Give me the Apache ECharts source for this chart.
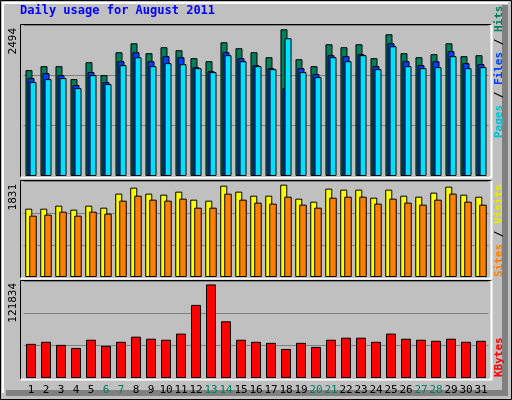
<!DOCTYPE html>
<html><head><meta charset="utf-8">
<script src="https://cdn.jsdelivr.net/npm/echarts@6/dist/echarts.min.js"></script>
<style>html,body{margin:0;padding:0;background:#c0c0c0}#c{width:512px;height:400px}</style>
</head><body><div id="c"></div>
<script>
const days = ['1','2','3','4','5','6','7','8','9','10','11','12','13','14','15','16','17','18','19','20','21','22','23','24','25','26','27','28','29','30','31'];
const weekendDays = ['6','7','13','14','20','21','27','28'];
const hits = [1749,1814,1814,1600,1880,1666,2044,2192,2028,2127,2077,1946,1896,2209,2110,2044,1962,2423,1929,1814,2176,2127,2176,1946,2340,2028,1962,2012,2192,1979,1995];
const files = [1617,1699,1666,1502,1716,1551,1896,2044,1896,1979,1962,1798,1732,2044,1946,1831,1781,1452,1781,1683,1995,1979,2012,1814,2192,1896,1831,1896,2061,1864,1847];
const pages = [1551,1600,1617,1452,1666,1518,1831,1962,1814,1864,1847,1781,1716,1995,1896,1814,1765,2275,1716,1633,1962,1896,1995,1765,2143,1814,1781,1798,1979,1781,1798];
const visits = [1303,1303,1361,1284,1361,1322,1590,1704,1590,1570,1628,1475,1456,1742,1628,1551,1551,1761,1494,1437,1685,1666,1666,1513,1666,1551,1532,1609,1723,1570,1532];
const sites = [1170,1189,1246,1170,1246,1208,1456,1551,1475,1456,1494,1322,1322,1590,1475,1418,1399,1532,1380,1322,1513,1532,1532,1399,1494,1418,1380,1475,1590,1437,1380];
const kbytes = [42900,45474,41613,37752,48048,40326,45474,51909,49335,48048,55770,91806,117546,71214,48048,45474,44187,36465,44187,39039,48048,50622,50622,45474,55770,49335,48048,46761,49335,45474,46761];
const axisMax = [2494,1831,121834];
const title = 'Daily usage for August 2011';

const chart = echarts.init(document.getElementById('c'));
const panels = [[25,151],[181,96],[281,97]];
const grids = panels.map(p=>({left:23.5,right:23.5,top:p[0],height:p[1]}));
const xAxes = grids.map((g,i)=>({type:'category',gridIndex:i,data:days,
  axisLine:{show:false},axisTick:{show:false},
  axisLabel:{show:i===2,margin:7,fontFamily:'DejaVu Sans Mono',fontSize:11,interval:0,
    color:(v)=>weekendDays.includes(v)?'#00805c':'#000'}}));
const yAxes = axisMax.map((m,i)=>({type:'value',gridIndex:i,min:0,max:m,interval:m/3,
  axisLabel:{show:false},axisLine:{show:false},axisTick:{show:false},
  splitLine:{show:true,lineStyle:{color:'#808080',width:1}}}));
const bar=(data,i,color,w,gap)=>({type:'bar',xAxisIndex:i,yAxisIndex:i,data,barWidth:w,barGap:gap,
  itemStyle:{color,borderColor:'#000',borderWidth:1},animation:false,silent:true});
const series=[bar(hits,0,'#00805c',7,'-71%'),bar(files,0,'#0040ff',7,'-71%'),bar(pages,0,'#00e0ff',7,'-71%'),
  bar(visits,1,'#ffff00',7,'-43%'),bar(sites,1,'#ff8000',7.5,'-43%'),bar(kbytes,2,'#ff0000',10,'0%')];

const g=[];
// outer frame
g.push({type:'rect',shape:{x:0.5,y:0.5,width:511,height:399},style:{fill:'none',stroke:'#000',lineWidth:1},z:0});
g.push({type:'polyline',shape:{points:[[505,5],[505,393],[6,393]]},style:{fill:'none',stroke:'#808080',lineWidth:6},z:0});
g.push({type:'polyline',shape:{points:[[3,393],[3,3],[508,3]]},style:{fill:'none',stroke:'#fff',lineWidth:2},z:0});
panels.forEach(p=>{
  const t=p[0]-0.5,b=p[0]+p[1]+1.5;
  g.push({type:'polyline',shape:{points:[[20.5,b],[20.5,t],[491.5,t]]},style:{fill:'none',stroke:'#000',lineWidth:1},z:10});
  g.push({type:'polyline',shape:{points:[[20.5,b],[491.5,b],[491.5,t]]},style:{fill:'none',stroke:'#fff',lineWidth:2},z:10});
});
g.push({type:'text',left:20,top:5,style:{text:title,fill:'#0000ff',font:'bold 12px "DejaVu Sans Mono"'}});
const maxY=[28,184,283];
axisMax.forEach((m,i)=>{
  g.push({type:'text',x:8,y:maxY[i],rotation:Math.PI/2,style:{text:String(m),fill:'#000',font:'11px "DejaVu Sans Mono"',align:'right',verticalAlign:'top'}});
});
const rl=(y,parts)=>{
  g.push({type:'text',x:494,y,rotation:Math.PI/2,style:{
    text:parts.map((p,k)=>'{s'+k+'|'+p[0]+'}').join(''),
    rich:Object.fromEntries(parts.map((p,k)=>['s'+k,{fill:p[1],font:'bold 11px "DejaVu Sans Mono"'}])),
    align:'left',verticalAlign:'top'}});
};
rl(138,[['Pages','#00c0d0'],[' / ','#000'],['Files','#0040ff'],[' / ','#000'],['Hits','#00805c']]);
rl(277,[['Sites','#ff8000'],[' / ','#000'],['Visits','#e8e800']]);
rl(377,[['KBytes','#ff0000']]);

chart.setOption({backgroundColor:'#c0c0c0',animation:false,grid:grids,xAxis:xAxes,yAxis:yAxes,series,graphic:g});
</script></body></html>
